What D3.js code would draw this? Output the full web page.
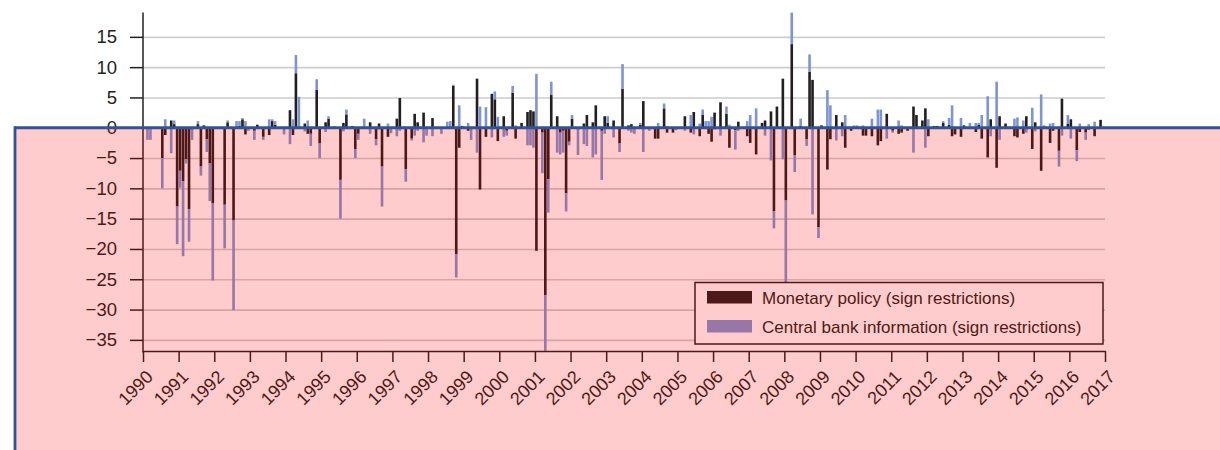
<!DOCTYPE html>
<html><head><meta charset="utf-8">
<script src="https://cdn.jsdelivr.net/npm/d3@7"></script>
<style>
html,body{margin:0;padding:0;background:#fff;}
svg{display:block;font-family:"Liberation Sans",Arial,Helvetica,sans-serif;}
</style></head><body>
<svg id="chart" width="1220" height="450"></svg>
<script>
const yearTicks = [1990,1991,1992,1993,1994,1995,1996,1997,1998,1999,2000,2001,2002,2003,2004,2005,2006,2007,2008,2009,2010,2011,2012,2013,2014,2015,2016,2017];
const yTicks = [15,10,5,0,-5,-10,-15,-20,-25,-30,-35];
const seriesNames = ["Monetary policy (sign restrictions)", "Central bank information (sign restrictions)"];

// monthly values, Jan 1990 - Dec 2016 (12 per row)
const monetaryPolicy = [
  0, 0, 0, 0, 0, 0, -5, -1.2, 0, 1.2, 0.6, -13,
  -7.1, -8.8, -5.2, -13.4, -0.3, 0, 0.6, -6.4, 0.4, -1.9, -5.9, -12.5,
  0, 0, 0, -12.7, 0.9, 0, -15.3, 0, 0.3, 1.4, -1.1, 0,
  0, -0.5, 0.5, 0, -1.5, 0, -1.2, 1.1, 0.5, 0, 0, -0.3,
  0, 2.9, -1.2, 9, 0, 0, 0.7, -1, -1, 0, 6.3, -2.6,
  0, 0.9, 1.5, 0, 0.2, 0, -8.6, 0.8, 2.2, 0, 0.3, -3.5,
  -1, 0, 0, 0, 0.9, 0, -1.9, 0.7, -6.4, 0, -1.5, 0,
  0, 1.5, 4.9, 0, -6.8, 0, -1.8, 2.3, 0.9, 0, 2.5, 0,
  0, 1.6, 0, 0, 0, 0, 0, 0, 6.9, -20.9, -3.3, 0.3,
  0, -0.5, 0, 0, 8.1, -10.2, 0, -1.5, 0, 5.6, 4.7, -2.2,
  0, 1.9, -0.5, 0, 5.8, -1.8, 0, 0.8, 0, 2.6, 2.9, 2.7,
  -20.3, 0, -0.8, -27.6, -8.5, 5.4, 0, 1.9, -0.8, -0.5, -10.8, -2.3,
  1.5, 0, -0.3, 0, 0.7, 2.1, 0, 0.9, 3.7, 0, -0.5, 1.9,
  0.8, 0, 1.2, 0, -2.6, 6.4, 0, 0.4, 0.6, 0, 0, 0.5,
  4.4, 0, 0, 0, -1.8, -1.8, 0, 3.2, -0.8, 0, -0.8, 0,
  0, 0, 1.9, 0, -0.8, 2.6, 0, -1.4, 2.1, 0, -1, -2.3,
  2.5, 0, 4.2, 0, 2.3, -3.3, 0, -0.4, 1, 0, 0, -1.4,
  -2.5, 0, -4.4, 0, 0.8, 1.2, 0, 2.7, -13.8, 3.5, 0, 8.1,
  -12, 0, 13.8, -4.5, 0, 0.3, 0, -1.9, 9.2, 7.9, 0, -16.4,
  0.4, 0, -6.9, -1.9, 0, 2.1, 0, 0.9, -3.3, 0, -0.5, 0,
  0, 0, -1.3, -1.3, 0, -1.4, 0, -2.9, -2.2, 0, 2.3, 0,
  -0.5, 0, -1, -0.8, 0, -0.5, 0, 3.5, 2.1, 0, 1.2, 3.2,
  -1.4, 0, 0.3, 0.3, 0, 0.8, 0, 0.5, -1.4, -1.1, 0, -1.5,
  0.4, 0, 0, 0, -0.7, 0.5, -1.8, 0, -4.9, 1.4, 0, -6.6,
  1.9, 0, 0.7, 0, 0, -1.4, -1.6, 0, -1, 1.9, 0, -3.5,
  0.9, 0, -7.1, 0, 0, -2.5, -0.5, 0, -3.8, 4.8, 0, 0.7,
  1.4, 0, -3.7, -0.7, 0, -0.8, -0.3, 0, -1.4, 0, 1.3, 0
];
const cbInformation = [
  0, -2, -2, 0, 0, 0, -5, 1.4, 0, -4.2, 0.6, -6.2,
  -2.8, -12.4, -0.7, -5.4, -1.7, 0, 0.5, -1.5, 0, -2.1, -6.2, -12.7,
  0, 0, 0, -7.2, 0.3, 0, -14.8, 1.1, 0.8, 0.2, 1.1, -0.5,
  0, -1.5, 0, 0, -0.5, 0, 1.4, 0.3, 0.6, 0, 0, -0.8,
  0, -2.7, 1.4, 3, 5.1, 0, -0.6, 1.2, -2, 0, 1.7, -2.4,
  0, -0.7, 0.4, 0, 0, 0, -6.4, -0.6, 0.8, 0, 0, -1.5,
  -1, 0, 1.5, 0, -1, 0, -1, -0.3, -6.6, 0, 0.7, -0.9,
  0, -1.4, -0.5, 0, -2.1, 0, -0.3, -1.3, -0.5, 0, -2.4, -1.3,
  0, -1.4, 0, 0, -1, 0, 1, 1.1, 0.2, -3.8, 3.7, 0,
  0, 0.8, -2, 0, -4.1, 3.5, 0, 3.4, 0, -1.6, 1.3, 1.8,
  0, -1.5, -0.8, 0, 1.1, 0.4, 0, 0, 0, -2.9, -2.9, -3.3,
  8.9, 0, -6.7, -9.2, -5.5, 2.2, 0, -4.1, -3.6, -3.6, -3, -0.6,
  0.6, 0, -4.2, 0, -2.7, -3, 0, -4.9, -4.4, 0, -8.1, -1,
  1.1, 0, -1.6, 0, -1.4, 4.1, 0, -0.5, -0.8, -1, 0, 0.3,
  -4, 0, -0.5, 0, 0, 0.8, 0, 0.8, 0.3, 0, 0, -0.4,
  0, 0, -0.5, 0, 2.1, -1.1, 0, 0.7, 0.9, 1.1, 1.1, 1.8,
  -0.3, 0, -1.3, 0, 1.2, 0.5, 0, -3.2, -0.5, 0, 0, 1.1,
  2.1, 0, 3.2, 0, 0, -1.3, 0, -5.4, -2.8, 0, 0, -5.2,
  -13.5, 0, 5.2, -2.8, 0, 1.2, 0, -1.1, 2.9, -14.3, 0, -1.8,
  0, 0, 6.2, 3.7, 0, -2.1, 0, -1.4, 2.1, 0, 0.2, 0.4,
  0.4, 0, 0.4, 0, 0, 1.5, 0, 3, 3, 0, -1.8, 0,
  -0.3, 0, 1.2, 0.4, 0, 0, 0, -4.1, 0, 0, 0, -3.3,
  1.4, 0, 0, 0, 0, 0.3, 0, 1.1, 3.7, 0, 0, 1.6,
  0, 0, 0.8, 0, 0.8, 0.3, 2.1, 0, 5.2, -1.4, 0, 7.6,
  -2, 0, 0, 0, 0, 1.5, 1.7, 0, 1.2, -0.8, 0, 3.3,
  -0.6, 0, 5.5, 0.4, 0, 0.7, 0.8, 0, -2.6, -1.3, 0, 1.4,
  -1.8, 0, -1.8, 0.7, 0, -1.2, 0.6, 0, 1, 0, 0, 0
];

const months = d3.range(monetaryPolicy.length);
const rows = months.map(i => ({i: i, mp: monetaryPolicy[i], cb: cbInformation[i]}));

const svg = d3.select("#chart");
const X0 = 143, X1 = 1105;
const dark = "#231f20";
const colors = {mp: "#231f20", cb: "#7f95d3"};
const FONT = '"Liberation Sans",Arial,sans-serif';

const y = d3.scaleLinear().domain([-37, 19]).range([352, 12.6]);
const xBand = d3.scaleBand().domain(months).range([X0, X1]).paddingInner(0.12).paddingOuter(0.06);
const xYear = d3.scaleLinear().domain([yearTicks[0], yearTicks[yearTicks.length-1]]).range([X0, X1]);

// gridlines
const grid = svg.append("g").attr("transform", `translate(${X0},0)`)
  .call(d3.axisLeft(y).tickValues(yTicks.filter(d => d !== 0)).tickSize(-(X1 - X0)).tickFormat(""));
grid.select(".domain").remove();
grid.selectAll("line").attr("stroke", "#cdcdcd").attr("stroke-width", 1.6);

// bars
const stacked = d3.stack().keys(["mp", "cb"]).offset(d3.stackOffsetDiverging)(rows);
svg.append("g").selectAll("g").data(stacked).join("g")
  .attr("fill", d => colors[d.key])
  .selectAll("rect").data(d => d).join("rect")
  .attr("x", d => xBand(d.data.i))
  .attr("width", xBand.bandwidth())
  .attr("y", d => y(Math.max(d[0], d[1])))
  .attr("height", d => Math.abs(y(d[0]) - y(d[1])));

// y axis
const yAxis = svg.append("g").attr("transform", `translate(${X0},0)`)
  .call(d3.axisLeft(y).tickValues(yTicks).tickSize(13).tickSizeOuter(0).tickPadding(13)
    .tickFormat(d => d < 0 ? "\u2212" + Math.abs(d) : String(d)));
yAxis.select(".domain").attr("stroke", dark).attr("stroke-width", 1.5).attr("d", `M0,${y(-37)+0.5}V12.6`);
yAxis.selectAll("line").attr("stroke", dark).attr("stroke-width", 1.5);
yAxis.selectAll("text").attr("fill", dark).attr("font-size", 18.5).attr("font-family", FONT);

// x axis
const xAxisY = 351;
const xAxis = svg.append("g").attr("transform", `translate(0,${xAxisY})`)
  .call(d3.axisBottom(xYear).tickValues(yearTicks).tickSize(11).tickSizeOuter(0).tickFormat(d3.format("d")));
xAxis.select(".domain").attr("stroke", dark).attr("stroke-width", 1.5);
xAxis.selectAll("line").attr("stroke", dark).attr("stroke-width", 1.5);
xAxis.selectAll("text")
  .attr("fill", dark).attr("font-size", 18).attr("font-family", FONT)
  .attr("x", 0).attr("y", 0).attr("dy", 0)
  .attr("text-anchor", "end")
  .attr("transform", "translate(10.5,27) rotate(-45)");

// legend
const lg = svg.append("g");
lg.append("rect").attr("x", 695).attr("y", 282.5).attr("width", 408).attr("height", 61.5)
  .attr("fill", "#fff").attr("stroke", dark).attr("stroke-width", 1.5);
const legendItems = [{key: "mp", name: seriesNames[0]}, {key: "cb", name: seriesNames[1]}];
legendItems.forEach((it, k) => {
  lg.append("rect").attr("x", 707).attr("y", 291 + k * 29).attr("width", 45).attr("height", 12.5)
    .attr("fill", colors[it.key]);
  lg.append("text").attr("x", 762).attr("y", 304 + k * 28.6).attr("font-size", 17)
    .attr("font-family", FONT).attr("fill", dark).text(it.name);
});

// pink overlay panel with blue border
svg.append("rect").attr("x", 15).attr("y", 128).attr("width", 1205).attr("height", 322)
  .attr("fill", "rgb(250,0,0)").attr("opacity", 0.2).attr("pointer-events", "none");
svg.append("line").attr("x1", 15).attr("x2", 1220).attr("y1", y(0)).attr("y2", y(0))
  .attr("stroke", "#2f5597").attr("stroke-width", 2.8);
svg.append("line").attr("x1", 15).attr("x2", 15).attr("y1", y(0) - 1.4).attr("y2", 450)
  .attr("stroke", "#2f5597").attr("stroke-width", 2.8);
</script>
</body></html>
